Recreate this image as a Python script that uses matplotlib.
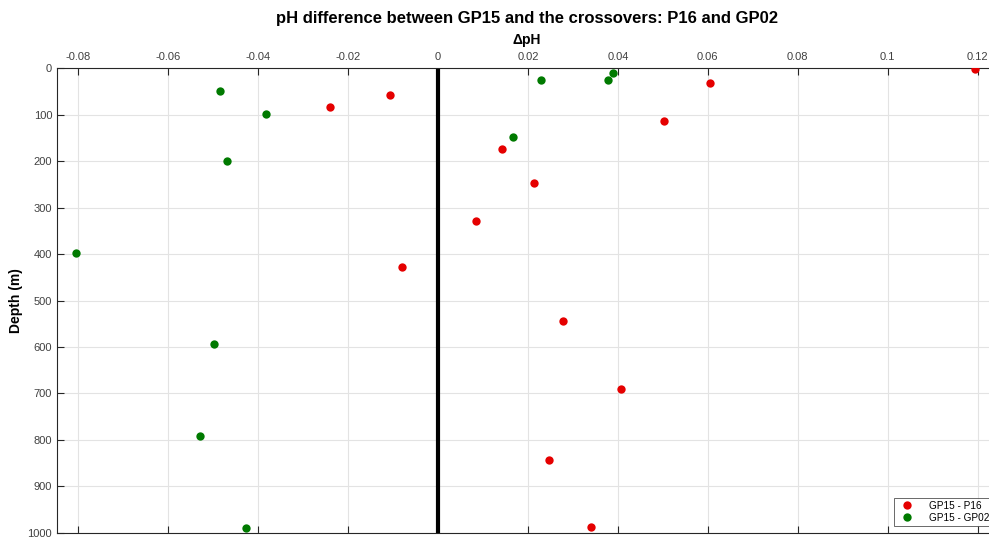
import matplotlib.pyplot as plt
import numpy as np

plt.rcParams['font.family'] = ['Liberation Sans', 'DejaVu Sans']

# GP15 - P16 crossover
p16_dph = [0.1193, 0.0604, -0.0106, -0.0241, 0.0502, 0.0143, 0.0213,
           0.0085, -0.0080, 0.0279, 0.0407, 0.0247, 0.0341]
p16_depth = [1, 32, 57, 83, 114, 174, 247, 329, 428, 545, 691, 842, 988]

# GP15 - GP02 crossover
gp02_dph = [0.0389, 0.0229, 0.0378, -0.0485, -0.0383, 0.0166, -0.0470,
            -0.0804, -0.0498, -0.0529, -0.0427]
gp02_depth = [10, 25, 26, 50, 99, 149, 199, 397, 594, 792, 989]

xticks = [-0.08, -0.06, -0.04, -0.02, 0, 0.02, 0.04, 0.06, 0.08, 0.1, 0.12]
xtick_labels = ['-0.08', '-0.06', '-0.04', '-0.02', '0', '0.02', '0.04',
                '0.06', '0.08', '0.1', '0.12']
yticks = list(range(0, 1001, 100))

fig = plt.figure(figsize=(9.89, 5.4), dpi=100)
ax = fig.add_axes([0.0576, 0.013, 0.9424, 0.861])

ax.grid(True, color='#e3e3e3', linewidth=0.8)
ax.set_axisbelow(True)
ax.axvline(0, color='black', linewidth=3, zorder=2)

ax.plot(p16_dph, p16_depth, 'o', color='#e50000', markersize=6,
        markeredgewidth=0, label='GP15 - P16', zorder=3)
ax.plot(gp02_dph, gp02_depth, 'o', color='#007a00', markersize=6,
        markeredgewidth=0, label='GP15 - GP02', zorder=3)

ax.set_xlim(-0.0847, 0.1225)
ax.set_ylim(1000, 0)
ax.xaxis.tick_top()
ax.set_xticks(xticks)
ax.set_xticklabels(xtick_labels)
ax.set_yticks(yticks)
ax.tick_params(axis='both', direction='in', labelsize=8, labelcolor='#404040',
               color='#262626', length=5, width=0.8, top=True, bottom=True,
               left=True, right=False)
ax.tick_params(axis='x', pad=4)

for s in ['top', 'bottom', 'left']:
    ax.spines[s].set_color('#262626')
    ax.spines[s].set_linewidth(0.8)
ax.spines['right'].set_visible(False)

# x label sits above the top tick labels
fig.text(527 / 989, 1 - 40 / 540, 'ΔpH', fontsize=10, fontweight='bold',
         ha='center', va='center')
ax.set_ylabel('Depth (m)', fontsize=10, fontweight='bold', labelpad=3)
fig.suptitle('pH difference between GP15 and the crossovers: P16 and GP02',
             fontsize=12, fontweight='bold', x=0.533, y=0.98)

leg = ax.legend(loc='lower right', bbox_to_anchor=(1.004, 0.016),
                fontsize=7.2, frameon=True, fancybox=False,
                edgecolor='#262626', borderaxespad=0, handletextpad=1.2,
                borderpad=0.3, labelspacing=0.2)
leg.get_frame().set_linewidth(0.6)

fig.savefig('out.png', dpi=100)
